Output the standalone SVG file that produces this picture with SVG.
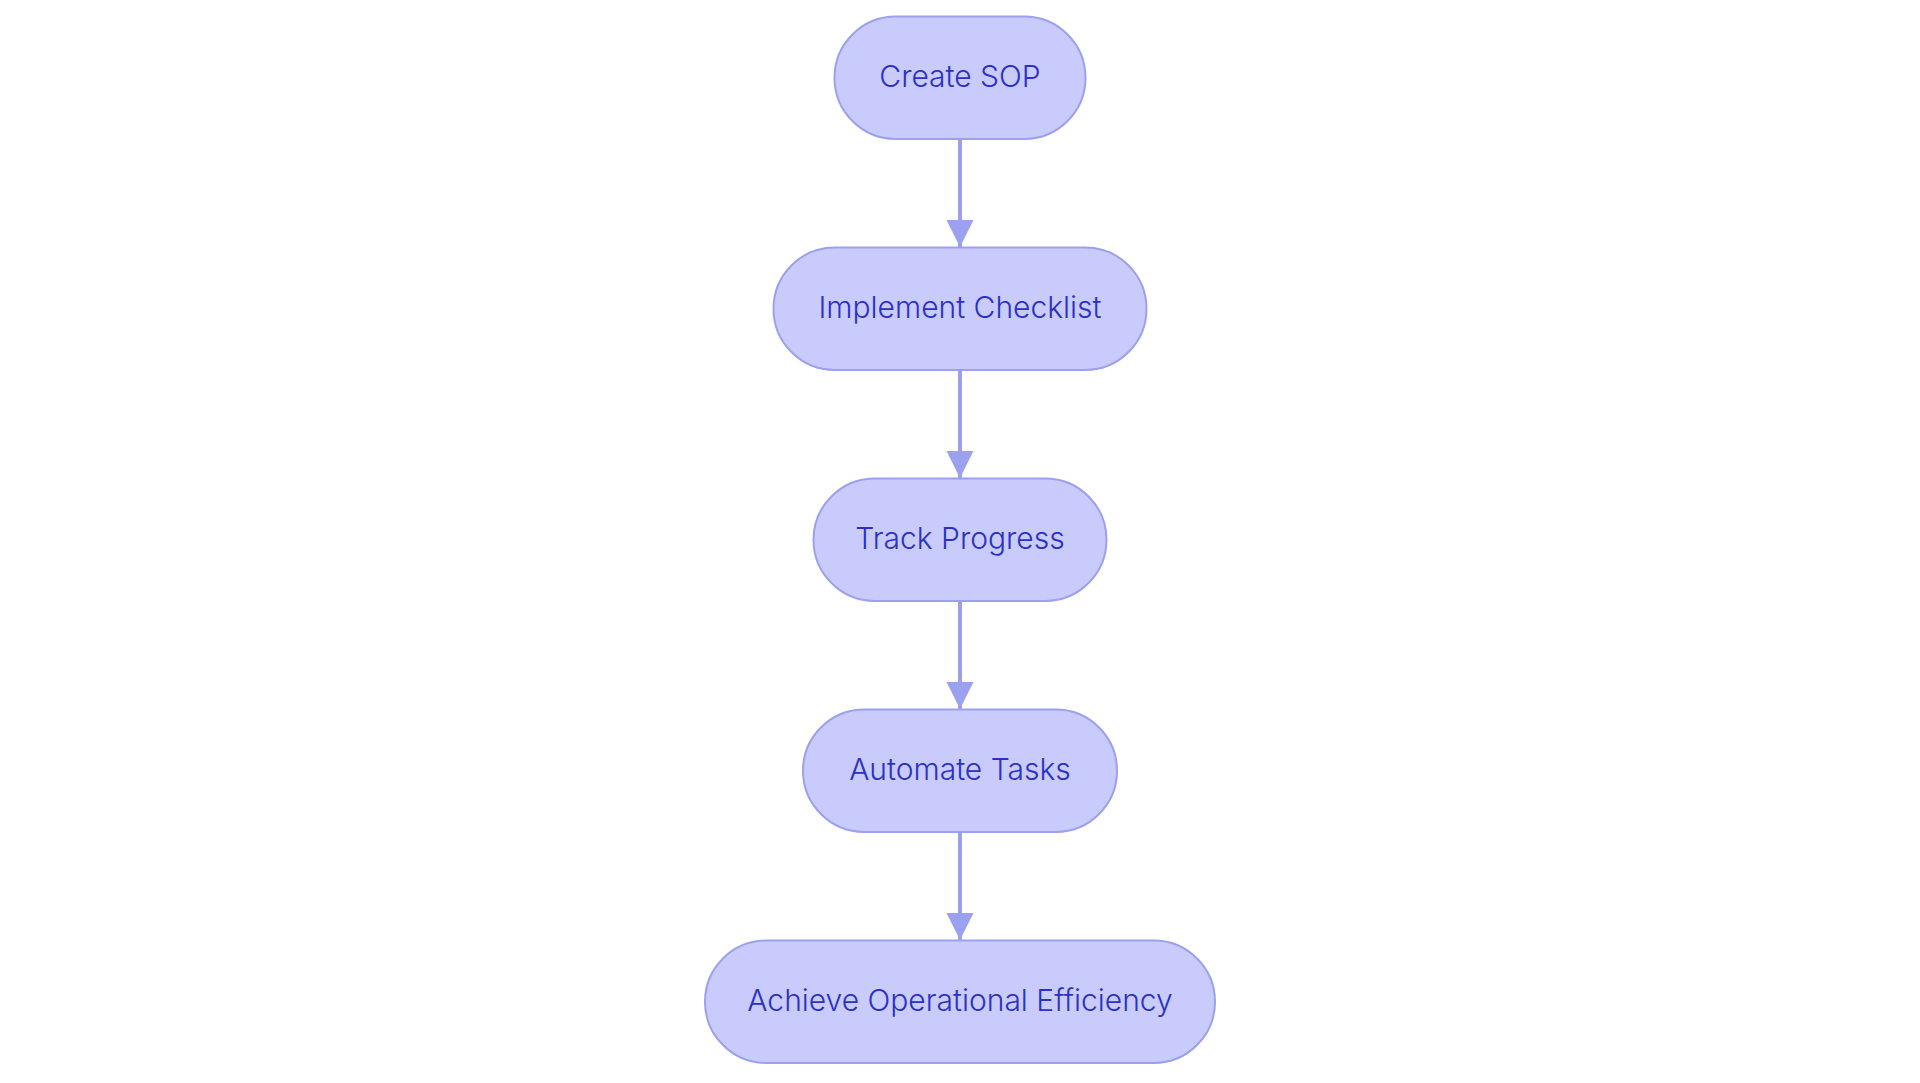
<svg xmlns="http://www.w3.org/2000/svg" width="1920" height="1083" viewBox="0 0 1920 1083">
<defs>
<style>
.node rect{fill:#c9cbfc;stroke:#9ba0f0;stroke-width:2}
.node text{font-family:Inter,"Noto Sans","Liberation Sans",sans-serif;font-size:30px;font-weight:300;fill:#2b31c6;text-anchor:middle}
.edge{stroke:#9ba0f0;stroke-width:4;fill:none}
</style>
<marker id="arrow" viewBox="0 0 10 10" refX="10" refY="5" markerUnits="userSpaceOnUse" markerWidth="27" markerHeight="28" orient="auto">
<path d="M0,0 L10,5 L0,10 z" fill="#9ba0f0"/>
</marker>
</defs>
<rect width="1920" height="1083" fill="#ffffff"/>
<g id="connectors">
<line class="edge" x1="960" y1="139" x2="960" y2="247" marker-end="url(#arrow)"/>
<line class="edge" x1="960" y1="370" x2="960" y2="478" marker-end="url(#arrow)"/>
<line class="edge" x1="960" y1="601" x2="960" y2="709" marker-end="url(#arrow)"/>
<line class="edge" x1="960" y1="832" x2="960" y2="940" marker-end="url(#arrow)"/>
</g>
<g id="node-create-sop" class="node">
<rect x="834.5" y="16.5" width="251" height="122.5" rx="61.25"/>
<text x="960" y="87">Create SOP</text>
</g>
<g id="node-implement-checklist" class="node">
<rect x="773.5" y="247.5" width="373" height="122.5" rx="61.25"/>
<text x="960" y="318">Implement Checklist</text>
</g>
<g id="node-track-progress" class="node">
<rect x="813.5" y="478.5" width="293" height="122.5" rx="61.25"/>
<text x="960" y="549">Track Progress</text>
</g>
<g id="node-automate-tasks" class="node">
<rect x="803" y="709.5" width="314" height="122.5" rx="61.25"/>
<text x="960" y="780">Automate Tasks</text>
</g>
<g id="node-achieve" class="node">
<rect x="705" y="940.5" width="510" height="122.5" rx="61.25"/>
<text x="960" y="1011">Achieve Operational Efficiency</text>
</g>
</svg>
